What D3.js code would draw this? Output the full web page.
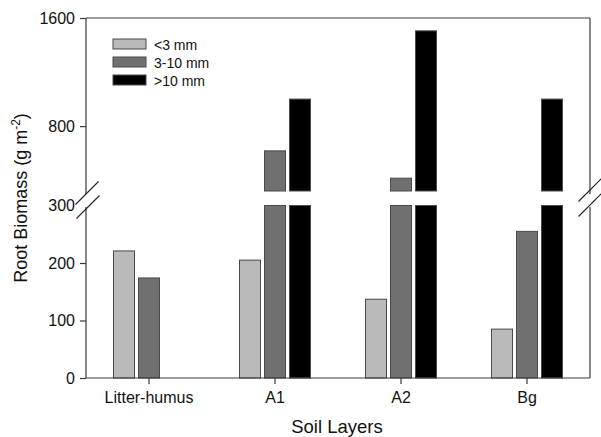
<!DOCTYPE html>
<html><head><meta charset="utf-8">
<script src="https://cdn.jsdelivr.net/npm/d3@7"></script>
<style>
body{margin:0;background:#fff}
text{font-family:"Liberation Sans",Arial,Helvetica,sans-serif;fill:#111}
</style>
</head><body>
<svg id="chart" width="601" height="437"></svg>
<script>
// Root biomass by soil layer and root diameter class
const layers = ["Litter-humus", "A1", "A2", "Bg"];
const sizeClasses = ["<3 mm", "3-10 mm", ">10 mm"];
const fine   = [221, 205, 137, 85];     // <3 mm
const medium = [174, 617, 415, 255];    // 3-10 mm
const coarse = [0, 1000, 1505, 1000];   // >10 mm
const lowerTicks = [0, 100, 200, 300];
const upperTicks = [800, 1600];
const colors = ["#bababa", "#707070", "#000000"];

const series = [fine, medium, coarse];
const svg = d3.select("#chart");
const L = 86, R = 590, T = 18, B = 378;
const axisColor = "#3a3a3a";

// Broken y axis: a lower segment (0-300) and an upper one (320-1600)
const yLow = d3.scaleLinear().domain([0, 300]).range([B, 205.5]);
const yUp  = d3.scaleLinear().domain([320, 1600]).range([191, T]);

const x = d3.scaleBand().domain(layers).range([L, R]).padding(0);
const xs = d3.scaleBand().domain(sizeClasses).range([27.5, x.bandwidth() - 27.5]).paddingInner(0.16);

const data = [];
layers.forEach((layer, i) => sizeClasses.forEach((s, j) => data.push({layer, s, j, v: series[j][i]})));

const bars = svg.append("g");
// lower segment
bars.selectAll("rect.low").data(data.filter(d => d.v > 0)).join("rect")
  .attr("class", "low")
  .attr("x", d => x(d.layer) + xs(d.s))
  .attr("width", xs.bandwidth())
  .attr("y", d => yLow(Math.min(d.v, 300)))
  .attr("height", d => B - yLow(Math.min(d.v, 300)))
  .attr("fill", d => colors[d.j])
  .attr("stroke", "#4a4a4a").attr("stroke-width", 1);
// upper segment
bars.selectAll("rect.up").data(data.filter(d => d.v > 320)).join("rect")
  .attr("class", "up")
  .attr("x", d => x(d.layer) + xs(d.s))
  .attr("width", xs.bandwidth())
  .attr("y", d => yUp(d.v))
  .attr("height", d => yUp(320) - yUp(d.v))
  .attr("fill", d => colors[d.j])
  .attr("stroke", "#4a4a4a").attr("stroke-width", 1);

// frame lines, with a gap at the break
const gapTop = yUp(320) + 3, gapBot = yLow(300) + 1.5;
const frame = svg.append("g").attr("stroke", axisColor).attr("stroke-width", 1.2).attr("fill", "none");
frame.append("line").attr("x1", L).attr("x2", R).attr("y1", T).attr("y2", T);
frame.append("line").attr("x1", L).attr("x2", R).attr("y1", B).attr("y2", B);
[L, R].forEach(xx => {
  frame.append("line").attr("x1", xx).attr("x2", xx).attr("y1", T).attr("y2", gapTop);
  frame.append("line").attr("x1", xx).attr("x2", xx).attr("y1", gapBot).attr("y2", B);
});

// break marks
const brk = svg.append("g").attr("stroke", "#222").attr("stroke-width", 1.1);
[[L + 1, gapTop - 1], [L + 2, gapBot + 0], [R, gapTop - 4], [R, gapBot - 2]].forEach(([cx, cy]) => {
  brk.append("line").attr("x1", cx - 11.5).attr("y1", cy + 11.5).attr("x2", cx + 11.5).attr("y2", cy - 11.5);
});

// y axes
const fmt = d3.format("d");
const gLow = svg.append("g").attr("transform", `translate(${L},0)`)
  .call(d3.axisLeft(yLow).tickValues(lowerTicks).tickSize(6).tickPadding(5).tickFormat(fmt));
const gUp = svg.append("g").attr("transform", `translate(${L},0)`)
  .call(d3.axisLeft(yUp).tickValues(upperTicks).tickSize(6).tickPadding(5).tickFormat(fmt));
[gLow, gUp].forEach(g => {
  g.select(".domain").remove();
  g.selectAll("line").attr("stroke", axisColor).attr("stroke-width", 1.2);
  g.selectAll("text").attr("font-size", 16).attr("font-family", '"Liberation Sans",Arial,sans-serif').attr("fill", "#111");
});
gLow.selectAll(".tick").filter(d => d === 300).select("line").remove();

// x axis
const gx = svg.append("g").attr("transform", `translate(0,${B})`)
  .call(d3.axisBottom(x).tickSize(6).tickPadding(8));
gx.select(".domain").remove();
gx.selectAll("line").attr("stroke", axisColor).attr("stroke-width", 1.2);
gx.selectAll("text").attr("font-size", 16).attr("font-family", '"Liberation Sans",Arial,sans-serif').attr("fill", "#111");

// axis titles
svg.append("text").attr("x", 337).attr("y", 433).attr("text-anchor", "middle")
  .attr("font-size", 18.5).text("Soil Layers");
const yt = svg.append("text").attr("transform", "translate(27,198) rotate(-90)")
  .attr("text-anchor", "middle").attr("font-size", 18);
yt.append("tspan").text("Root Biomass (g m");
yt.append("tspan").attr("baseline-shift", "super").attr("font-size", 12).text("-2");
yt.append("tspan").text(")");

// legend
const lg = svg.append("g").attr("transform", "translate(113,39)");
sizeClasses.forEach((s, j) => {
  const row = lg.append("g").attr("transform", `translate(0,${j * 18})`);
  row.append("rect").attr("width", 33).attr("height", 10).attr("fill", colors[j])
    .attr("stroke", "#4a4a4a").attr("stroke-width", 1);
  row.append("text").attr("x", 41).attr("y", 10.5).attr("font-size", 14).text(s);
});
</script>
</body></html>
